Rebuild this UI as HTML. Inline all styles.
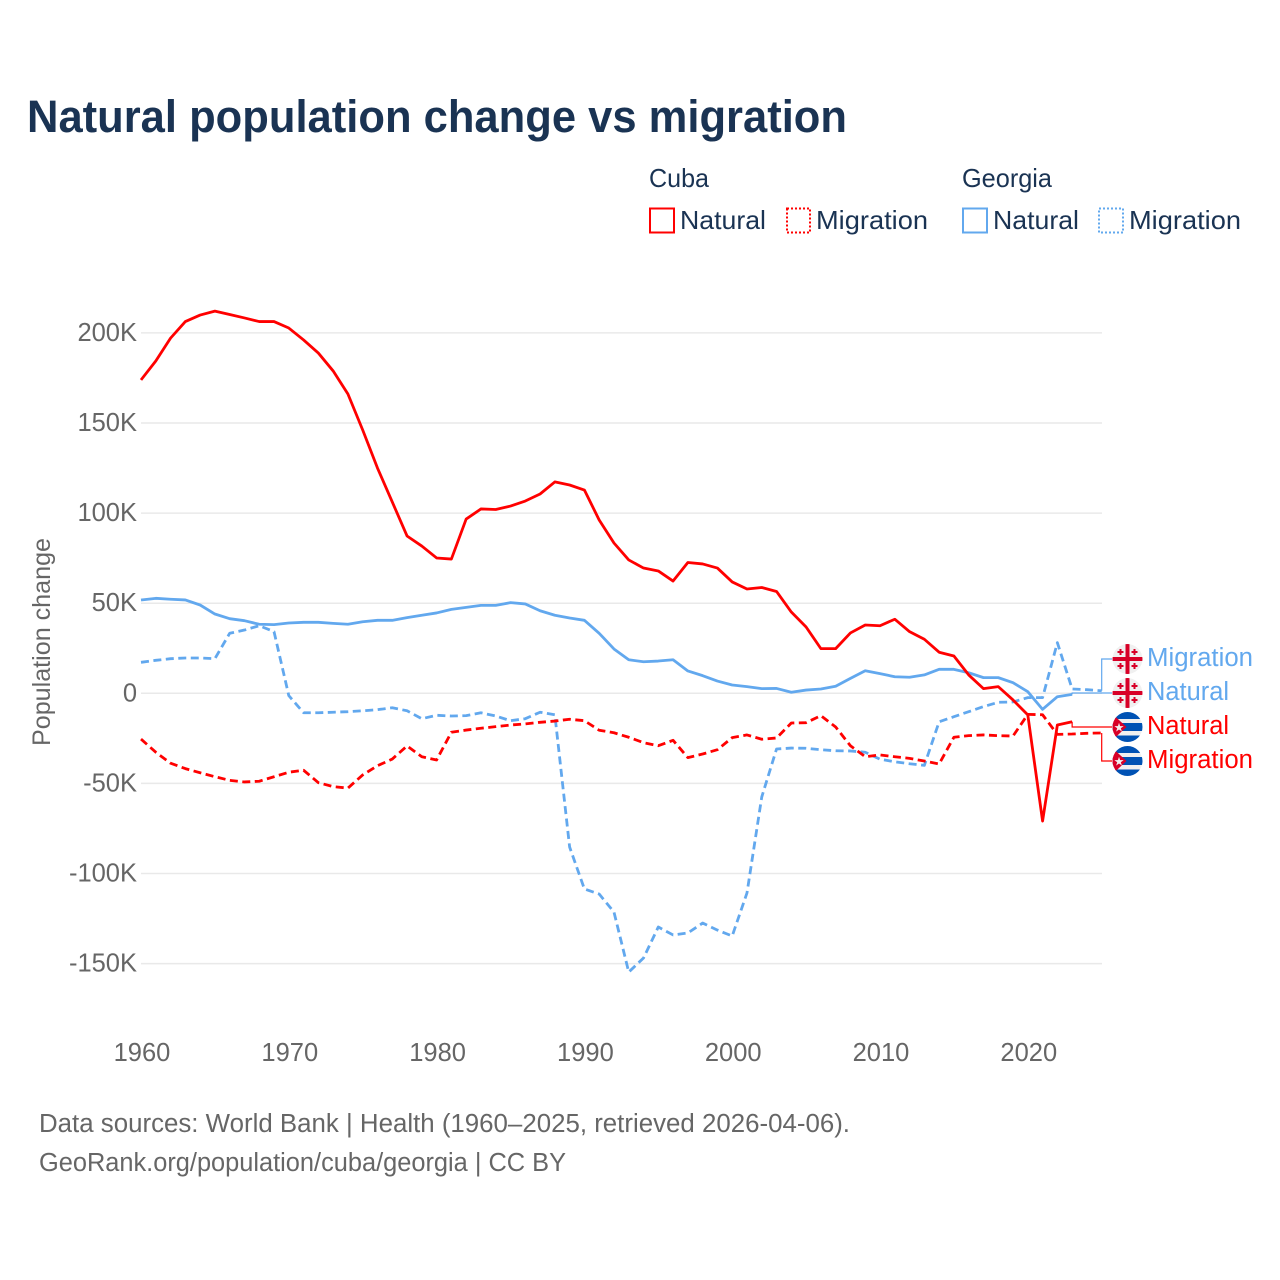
<!DOCTYPE html>
<html lang="en">
<head>
<meta charset="utf-8">
<title>Natural population change vs migration</title>
<style>
html,body{margin:0;padding:0;background:#fff;width:1280px;height:1280px;overflow:hidden}
svg{display:block}
text{font-family:"Liberation Sans",sans-serif}
</style>
</head>
<body>
<svg id="chart" xmlns="http://www.w3.org/2000/svg" width="1280" height="1280" viewBox="0 0 1280 1280">
  <defs><clipPath id="flag-clip"><circle r="15"/></clipPath></defs>
  <rect width="1280" height="1280" fill="#fff"/>
  <text x="27" y="132" font-size="45" font-weight="700" fill="#1a3353" textLength="820" lengthAdjust="spacingAndGlyphs">Natural population change vs migration</text>

  <g fill="#1a3353" font-size="26">
    <text x="649" y="187" textLength="60" lengthAdjust="spacingAndGlyphs">Cuba</text>
    <rect x="650" y="208.500" width="24" height="24" fill="none" stroke="#ff0000" stroke-width="2"/>
    <text x="680" y="229" textLength="86" lengthAdjust="spacingAndGlyphs">Natural</text>
    <rect x="787" y="208.500" width="23" height="24" fill="none" stroke="#ff0000" stroke-width="2" stroke-dasharray="2 2"/>
    <text x="816" y="229" textLength="112" lengthAdjust="spacingAndGlyphs">Migration</text>
    <text x="962" y="187" textLength="90" lengthAdjust="spacingAndGlyphs">Georgia</text>
    <rect x="963" y="208.500" width="24" height="24" fill="none" stroke="#62a8ee" stroke-width="2"/>
    <text x="993" y="229" textLength="86" lengthAdjust="spacingAndGlyphs">Natural</text>
    <rect x="1099" y="208.500" width="24" height="24" fill="none" stroke="#62a8ee" stroke-width="2" stroke-dasharray="2 2"/>
    <text x="1129" y="229" textLength="112" lengthAdjust="spacingAndGlyphs">Migration</text>
  </g>

  <text transform="translate(50,642) rotate(-90)" text-anchor="middle" font-size="25" fill="#666666" textLength="208" lengthAdjust="spacingAndGlyphs">Population change</text>

  <g id="grid"></g>
  <g id="yticks"></g>
  <g id="xticks"></g>
  <g id="leaders"></g>
  <g id="series"></g>
  <g id="labels"></g>

  <text x="39" y="1132" font-size="25.500" fill="#666666" textLength="811" lengthAdjust="spacingAndGlyphs">Data sources: World Bank | Health (1960–2025, retrieved 2026-04-06).</text>
  <text x="39" y="1171" font-size="25.500" fill="#666666" textLength="527" lengthAdjust="spacingAndGlyphs">GeoRank.org/population/cuba/georgia | CC BY</text>
</svg>

<script>
const startYear = 1960;
const xTickYears = [1960, 1970, 1980, 1990, 2000, 2010, 2020];
const yTickValues = [200, 150, 100, 50, 0, -50, -100, -150];
const yTickLabels = ["200K", "150K", "100K", "50K", "0", "-50K", "-100K", "-150K"];

const cubaNatural = [173.9,184.4,197.1,206.3,209.9,212.1,210.2,208.3,206.3,206.3,202.7,196.1,188.8,178.9,166.1,146.1,125,106.2,87.3,81.7,75.1,74.5,96.7,102.3,102,103.9,106.7,110.6,117.3,115.6,112.8,96.2,83.4,74,69.5,67.9,62.3,72.6,71.8,69.5,61.8,57.9,58.7,56.5,45.1,36.8,24.8,24.8,33.5,37.9,37.5,41.1,34.2,30,22.8,20.7,10.2,2.6,3.7,-3.7,-12,-70.9,-17.6,-15.8];
const cubaMigration = [-25.4,-32.7,-38.8,-41.8,-44.1,-46.3,-48.3,-49.2,-48.8,-46.3,-43.8,-42.7,-49.6,-51.8,-52.6,-45.3,-40.2,-36.5,-29.2,-35.2,-37,-21.6,-20.4,-19.4,-18.5,-17.6,-17,-16.1,-15.4,-14.4,-15.2,-20.5,-21.9,-24.4,-27.4,-29.1,-26.1,-35.7,-33.7,-31.3,-24.6,-23.1,-25.5,-24.8,-16.5,-16.3,-12.4,-18.7,-29.1,-35.2,-34.2,-35.2,-36.1,-37.6,-39.2,-24.4,-23.5,-23.1,-23.5,-23.7,-11.7,-11.9,-22.8,-22.6,-22.2,-22];
const georgiaNatural = [51.8,52.7,52.2,51.8,49,44,41.4,40.3,38.3,38.1,39,39.4,39.4,38.8,38.3,39.7,40.5,40.5,42,43.3,44.6,46.6,47.7,48.8,48.8,50.3,49.6,45.8,43.3,41.8,40.5,33.3,24.6,18.6,17.5,17.9,18.6,12.4,9.8,6.8,4.6,3.7,2.6,2.7,0.6,1.8,2.4,3.9,8.3,12.5,10.9,9.2,8.9,10.2,13.3,13.3,11.4,8.7,8.7,5.9,0.9,-8.9,-1.9,-0.6];
const georgiaMigration = [17.2,18.3,19.2,19.6,19.6,19.2,33.3,35.1,37.5,34.2,-1.3,-10.8,-10.8,-10.5,-10.2,-9.7,-9.1,-8,-9.7,-14.1,-12.2,-12.6,-12.4,-10.8,-12.6,-15.2,-14.1,-10.5,-11.9,-85.3,-108.6,-111.4,-121.4,-154.7,-146.9,-129.7,-134.1,-133,-127.5,-131.4,-134.7,-110.8,-57.5,-30.9,-30.4,-30.5,-31.3,-31.9,-32,-32.7,-36.6,-38,-39.1,-40,-15.8,-13,-10.2,-7.4,-5,-4.8,-2.4,-2.4,28.1,2.4,2,1.4];

const NS = "http://www.w3.org/2000/svg";
const RED = "#ff0000";
const BLUE = "#62a8ee";
function xScale(year) { return 141 + (year - startYear) * 14.78; }
function yScale(v) { return 693.3 - v * 1.802; }
function make(tag, attrs, parent) {
  const el = document.createElementNS(NS, tag);
  for (const k in attrs) el.setAttribute(k, attrs[k]);
  parent.appendChild(el);
  return el;
}

const gridG = document.getElementById("grid");
const yG = document.getElementById("yticks");
yTickValues.forEach((v, i) => {
  const line = make("line", {x1: 141, x2: 1102, y1: yScale(v), y2: yScale(v), stroke: "#e9e9e9", "stroke-width": 1.5}, gridG);
  
  
  const t = make("text", {x: 137, y: yScale(v) + 8, "text-anchor": "end", "font-size": 25.5, fill: "#666666"}, yG);
  t.textContent = yTickLabels[i];
  
  
});

const xG = document.getElementById("xticks");
xTickYears.forEach(y => {
  const t = make("text", {x: xScale(y) + 1, y: 1061, "text-anchor": "middle", "font-size": 25.5, fill: "#666666"}, xG);
  t.textContent = y;
  
  
});

function pathFor(values) {
  return values.map((v, i) => (i ? "L" : "M") + xScale(startYear + i).toFixed(2) + " " + yScale(v).toFixed(2)).join(" ");
}
const seriesG = document.getElementById("series");
function drawSeries(values, color, dashed, name) {
  const p = make("path", {d: pathFor(values), fill: "none", stroke: color, "stroke-width": 2.8, "stroke-linejoin": "round"}, seriesG);
  if (dashed) p.setAttribute("stroke-dasharray", "8 4.5");
  
  
}
drawSeries(georgiaMigration, BLUE, true, 'series-georgia-migration');
drawSeries(georgiaNatural, BLUE, false, 'series-georgia-natural');
drawSeries(cubaMigration, RED, true, 'series-cuba-migration');
drawSeries(cubaNatural, RED, false, 'series-cuba-natural');

const leadersG = document.getElementById("leaders");
const labelsG = document.getElementById("labels");
function drawLeader(values, color, labelY, name) {
  const i = values.length - 1;
  const x = xScale(startYear + i), y = yScale(values[i]);
  const d = "M" + x.toFixed(2) + " " + y.toFixed(2) + " L" + x.toFixed(2) + " " + labelY + " L1112 " + labelY;
  const p = make("path", {d: d, fill: "none", stroke: color, "stroke-width": 1.2}, leadersG);
  
  
}
drawLeader(georgiaMigration, BLUE, 659, 'leader-georgia-migration');
drawLeader(georgiaNatural, BLUE, 693, 'leader-georgia-natural');
drawLeader(cubaNatural, RED, 727, 'leader-cuba-natural');
drawLeader(cubaMigration, RED, 761, 'leader-cuba-migration');

function drawGeorgiaFlag(cy) {
  const g = make("g", {transform: "translate(1127.5," + cy + ")", "clip-path": "url(#flag-clip)"}, labelsG);
  
  
  make("circle", {r: 15, fill: "#f0f0f0"}, g);
  make("rect", {x: -2, y: -15, width: 4, height: 30, fill: "#d80027"}, g);
  make("rect", {x: -15, y: -2, width: 30, height: 4, fill: "#d80027"}, g);
  [[-7, -7], [7, -7], [-7, 7], [7, 7]].forEach(c => {
    make("rect", {x: c[0] - 1, y: c[1] - 3, width: 2, height: 6, fill: "#d80027"}, g);
    make("rect", {x: c[0] - 3, y: c[1] - 1, width: 6, height: 2, fill: "#d80027"}, g);
  });
}
function drawCubaFlag(cy) {
  const g = make("g", {transform: "translate(1127.5," + cy + ")", "clip-path": "url(#flag-clip)"}, labelsG);
  
  
  make("circle", {r: 15, fill: "#f0f0f0"}, g);
  make("rect", {x: -15, y: -15, width: 30, height: 7, fill: "#0052b4"}, g);
  make("rect", {x: -15, y: -4, width: 30, height: 8, fill: "#0052b4"}, g);
  make("rect", {x: -15, y: 8.5, width: 30, height: 7, fill: "#0052b4"}, g);
  make("path", {d: "M-15 -13 L-1 0 L-15 13 Z", fill: "#d80027"}, g);
  const s = make("text", {x: -8.5, y: 4.5, "text-anchor": "middle", "font-size": 12, fill: "#f0f0f0"}, g);
  s.textContent = "★";
  
  
}
function drawLabel(text, color, y, width, name) {
  const t = make("text", {x: 1147, y: y + 9, "font-size": 25.5, fill: color, textLength: width, lengthAdjust: "spacingAndGlyphs"}, labelsG);
  t.textContent = text;
  
  
}
drawGeorgiaFlag(659);
drawLabel("Migration", BLUE, 657, 106, 'end-label-georgia-migration');
drawGeorgiaFlag(693);
drawLabel("Natural", BLUE, 691, 82, 'end-label-georgia-natural');
drawCubaFlag(727);
drawLabel("Natural", RED, 725, 82, 'end-label-cuba-natural');
drawCubaFlag(761);
drawLabel("Migration", RED, 759, 106, 'end-label-cuba-migration');
</script>
</body>
</html>
